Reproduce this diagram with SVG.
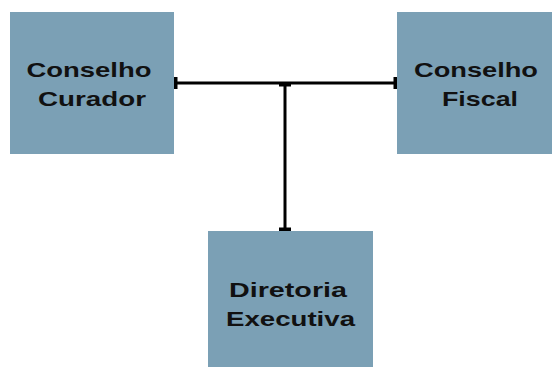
<svg xmlns="http://www.w3.org/2000/svg" width="552" height="367" viewBox="0 0 552 367">
<style>
.box{fill:#7ba0b5;}
.lbl{font-family:"Liberation Sans",Arial,sans-serif;font-weight:bold;font-size:21px;fill:#111;text-anchor:middle;}
.conn{stroke:#000;stroke-width:3;fill:none;}
</style>
<defs>
<marker id="tee" markerUnits="userSpaceOnUse" viewBox="-4 -6 4 12" refX="0" refY="0" markerWidth="4" markerHeight="12" orient="auto-start-reverse">
<rect x="-3.5" y="-6" width="3.5" height="12" fill="#000"/>
</marker>
</defs>
<rect width="552" height="367" fill="#fff"/>
<g id="connectors">
<path class="conn" d="M174,83 H397" marker-start="url(#tee)" marker-end="url(#tee)"/>
<path class="conn" d="M285,83 V231" marker-start="url(#tee)" marker-end="url(#tee)"/>
</g>
<g id="conselho-curador">
<rect class="box" x="10" y="12" width="164" height="142"/>
<text class="lbl" x="89" y="77" textLength="125" lengthAdjust="spacingAndGlyphs">Conselho</text>
<text class="lbl" x="92" y="106" textLength="108" lengthAdjust="spacingAndGlyphs">Curador</text>
</g>
<g id="conselho-fiscal">
<rect class="box" x="397" y="12" width="155" height="142"/>
<text class="lbl" x="476" y="77" textLength="124" lengthAdjust="spacingAndGlyphs">Conselho</text>
<text class="lbl" x="480" y="106" textLength="76" lengthAdjust="spacingAndGlyphs">Fiscal</text>
</g>
<g id="diretoria-executiva">
<rect class="box" x="208" y="231" width="165" height="136"/>
<text class="lbl" x="288" y="297" textLength="118" lengthAdjust="spacingAndGlyphs">Diretoria</text>
<text class="lbl" x="290.5" y="326" textLength="129" lengthAdjust="spacingAndGlyphs">Executiva</text>
</g>
</svg>
